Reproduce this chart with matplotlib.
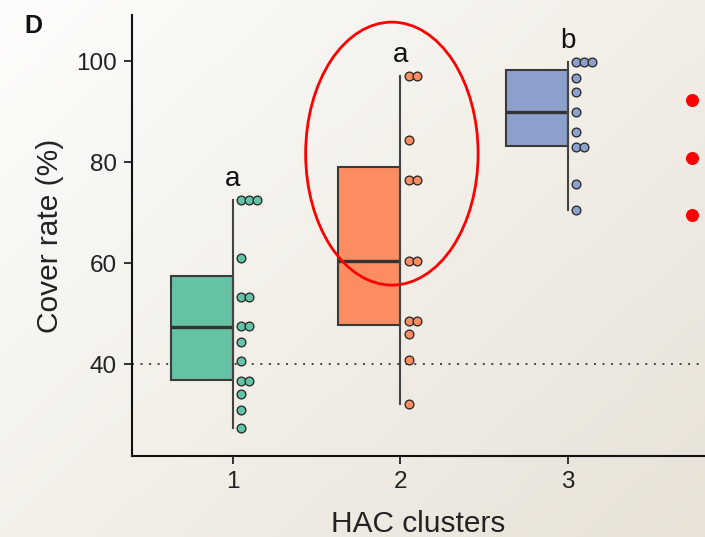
import numpy as np
from matplotlib import pyplot as plt
from matplotlib.patches import Rectangle, Ellipse

plt.rcParams['font.family'] = ['Liberation Sans', 'DejaVu Sans']

# data
clusters = [1, 2, 3]
colors = ['#66C2A5', '#FC8D62', '#8DA0CB']
letters = ['a', 'a', 'b']

vals1 = [72.5, 72.5, 72.5, 61.0, 53.4, 53.4, 47.6, 47.6, 44.5, 40.6,
         36.8, 36.8, 34.1, 31.0, 27.4]
vals2 = [97.0, 97.0, 84.3, 76.4, 76.4, 60.5, 60.5, 48.6, 48.6, 46.1,
         40.8, 32.2]
vals3 = [99.8, 99.8, 99.8, 96.7, 93.9, 89.9, 85.9, 83.1, 83.1, 75.6, 70.5]
values = [vals1, vals2, vals3]

q1 = [36.9, 47.8, 83.2]
med = [47.4, 60.5, 90.0]
q3 = [57.4, 79.0, 98.2]
whislo = [27.4, 32.2, 70.5]
whishi = [72.5, 97.0, 99.8]

ref_line = 40
# annotation marks drawn over the figure
ellipse_xy = (1.95, 81.7)
ellipse_w, ellipse_h = 1.03, 52.0
red_x = [3.74, 3.74, 3.74]
red_y = [92.3, 80.8, 69.5]

fig = plt.figure(figsize=(7.05, 5.37), dpi=100)

# soft paper-like background
bg = fig.add_axes([0, 0, 1, 1], zorder=0)
gx, gy = np.meshgrid(np.linspace(0, 1, 200), np.linspace(0, 1, 200))
t = (0.55 * gx + 0.45 * gy)
c0 = np.array([253, 253, 251]) / 255.0
c1 = np.array([232, 226, 215]) / 255.0
img = c0[None, None, :] + (c1 - c0)[None, None, :] * t[:, :, None]
bg.imshow(img, extent=[0, 1, 0, 1], aspect='auto', origin='upper')
bg.axis('off')

ax = fig.add_axes([0.1877, 0.1508, 0.8123, 0.8212], zorder=1)
ax.set_facecolor('none')

half = 0.37
off = 0.05
step = 0.048
for i, x in enumerate(clusters):
    ax.add_patch(Rectangle((x - half, q1[i]), half, q3[i] - q1[i],
                           facecolor=colors[i], edgecolor='#3a3a3a',
                           lw=1.5, zorder=2))
    ax.plot([x - half, x], [med[i], med[i]], color='#333333', lw=2.4,
            solid_capstyle='butt', zorder=3)
    ax.plot([x, x], [whislo[i], whishi[i]], color='#444444', lw=1.5,
            zorder=3)
    # stacked dots
    seen = {}
    xs, ys = [], []
    for v in values[i]:
        k = seen.get(v, 0)
        seen[v] = k + 1
        xs.append(x + off + k * step)
        ys.append(v)
    ax.scatter(xs, ys, s=40, color=colors[i], edgecolor='#222222',
               linewidth=0.9, zorder=4, clip_on=False)
    ax.text(x, whishi[i] + 2.8, letters[i], ha='center', va='baseline',
            fontsize=20, color='#111111')

ax.axhline(ref_line, color='#444444', lw=1.4, ls=(0, (1, 3.4)), zorder=1)

ax.add_patch(Ellipse(ellipse_xy, ellipse_w, ellipse_h, fill=False,
                     edgecolor='red', lw=2.0, zorder=5, clip_on=False))
ax.scatter(red_x, red_y, s=70, color='red', zorder=5, clip_on=False)

ax.set_xlim(0.40, 3.82)
ax.set_ylim(21.9, 109.1)
ax.set_xticks(clusters)
ax.set_yticks([40, 60, 80, 100])
ax.tick_params(labelsize=17.5, width=1.3, length=5.5, pad=5.5,
               color='#222222', labelcolor='#222222')
for s in ['top', 'right']:
    ax.spines[s].set_visible(False)
for s in ['left', 'bottom']:
    ax.spines[s].set_linewidth(1.5)
    ax.spines[s].set_color('#111111')

ax.set_xlabel('HAC clusters', fontsize=21.5, color='#222222', labelpad=12)
ax.set_ylabel('Cover rate (%)', fontsize=21.5, color='#222222', labelpad=9)

fig.text(0.035, 0.938, 'D', fontsize=18, fontweight='bold', color='#111111')

plt.savefig('out.png', dpi=100)
